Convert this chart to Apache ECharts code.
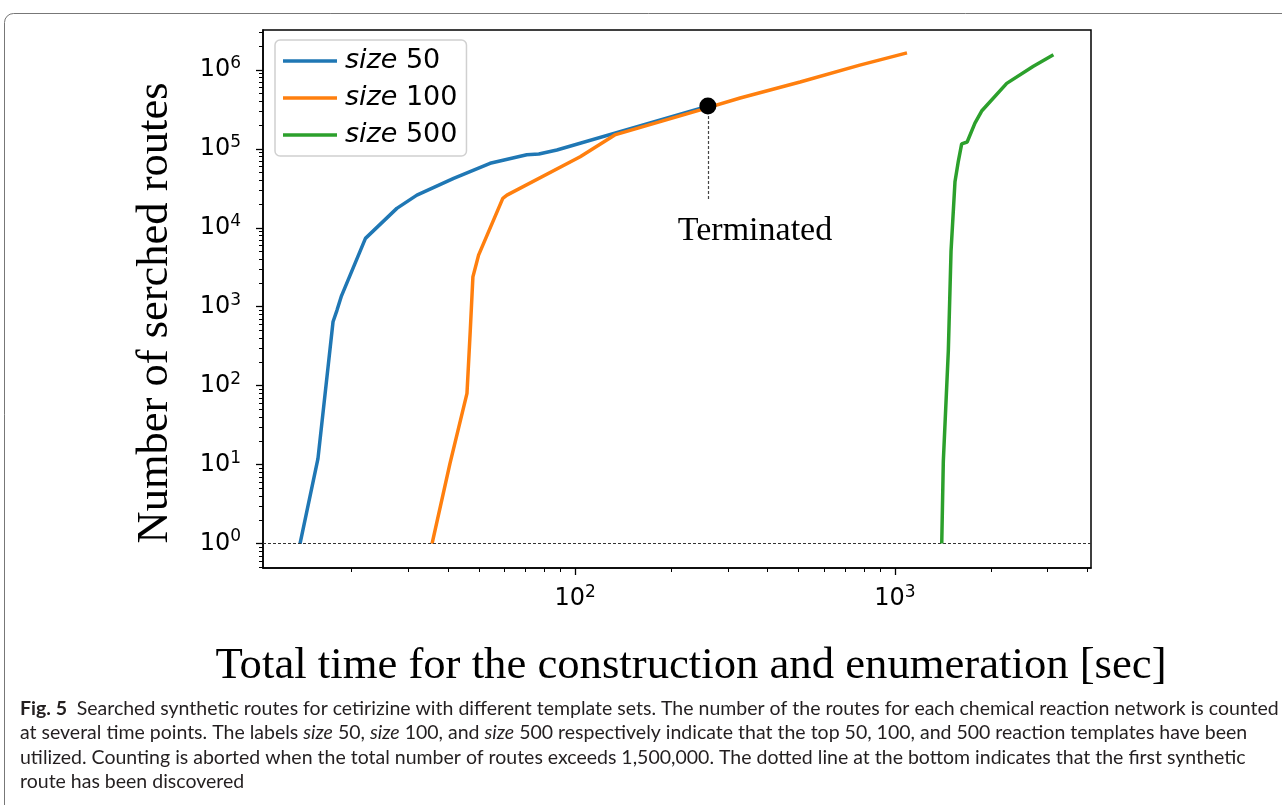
<!DOCTYPE html>
<html><head><meta charset="utf-8">
<script src="https://cdn.jsdelivr.net/npm/echarts@6/dist/echarts.min.js"></script>
<style>html,body{margin:0;padding:0;background:#fff}#c{width:1282px;height:805px}</style>
</head><body><div id="c"></div>
<script>
// ---- data ----
const seriesNames = ['size 50', 'size 100', 'size 500'];
const seriesColors = ['#1f77b4', '#ff7f0e', '#2ca02c'];

const size50Time   = [13.8, 15.7, 17.5, 18.0, 18.6, 22.1, 27.7, 32.0, 41.7, 54.2, 70.6, 77.0, 87.7, 260];
const size50Routes = [1, 11.9, 644, 900, 1374, 7340, 17600, 25900, 42200, 65500, 84000, 86000, 96600, 348000];

const size100Time   = [35.7, 40.6, 45.9, 47.0, 47.9, 49.9, 59.4, 61.2, 103.7, 133, 245, 328, 505, 776, 1090];
const size100Routes = [1, 10.3, 79.7, 500, 2390, 4510, 23600, 25900, 79400, 150000, 309000, 440000, 703000, 1150000, 1640000];

const size500Time   = [1400, 1416, 1468, 1497, 1540, 1578, 1616, 1681, 1778, 1866, 2235, 2708, 3128];
const size500Routes = [1, 11, 276, 5110, 38300, 70000, 115700, 122000, 212000, 301000, 675000, 1110000, 1550000];

const terminatedPoint = [260, 348000];
const terminatedLineEnd = 22000;
const terminatedText = 'Terminated';
const terminatedTextAnchor = [365, 9000];
const firstRouteLevel = 1;

const xRange = [10.57, 4100];
const yRange = [0.49, 3200000];
const xMajorTicks = [100, 1000];
const xMinorTicks = [20, 30, 40, 50, 60, 70, 80, 90, 200, 300, 400, 500, 600, 700, 800, 900, 2000, 3000, 4000];
const yMajorTicks = [1, 10, 100, 1000, 10000, 100000, 1000000];
const yMinorTicks = [0.5, 0.6, 0.7, 0.8, 0.9,
  2, 3, 4, 5, 6, 7, 8, 9,
  20, 30, 40, 50, 60, 70, 80, 90,
  200, 300, 400, 500, 600, 700, 800, 900,
  2000, 3000, 4000, 5000, 6000, 7000, 8000, 9000,
  20000, 30000, 40000, 50000, 60000, 70000, 80000, 90000,
  200000, 300000, 400000, 500000, 600000, 700000, 800000, 900000,
  2000000, 3000000];

const xTitle = 'Total time for the construction and enumeration [sec]';
const yTitle = 'Number of serched routes';
const captionText =
  '{b|Fig. 5}{r|\u2002Searched synthetic routes for cetirizine with different template sets. The number of the routes for each chemical reaction network is counted}\n' +
  '{r|at several time points. The labels }{i|size}{r| 50, }{i|size}{r| 100, and }{i|size}{r| 500 respectively indicate that the top 50, 100, and 500 reaction templates have been}\n' +
  '{r|utilized. Counting is aborted when the total number of routes exceeds 1,500,000. The dotted line at the bottom indicates that the first synthetic}\n' +
  '{r|route has been discovered}';

// ---- chart ----
const pair = (xs, ys) => xs.map((x, i) => [x, ys[i]]);
const supFmt = v => '{b|10}{s|' + Math.round(Math.log10(v)) + '}';
const tickRich = {
  b: {fontFamily: 'DejaVu Sans', fontSize: 24, color: '#000', lineHeight: 30},
  s: {fontFamily: 'DejaVu Sans', fontSize: 17, color: '#000', lineHeight: 16, verticalAlign: 'top'}
};
const axisLineStyle = {color: '#000', width: 1.5};

const chart = echarts.init(document.getElementById('c'), null, {renderer: 'canvas'});
const capFont = 'Lato';
const capSize = 19.5;
const capLH = 24.5;
const option = {
  animation: false,
  backgroundColor: '#fff',
  grid: {left: 263, right: 191, top: 30, bottom: 237, show: true, borderColor: '#000', borderWidth: 1.5, backgroundColor: 'transparent'},
  legend: {
    data: seriesNames.map(n => ({name: n, icon: 'rect'})), orient: 'vertical', left: 275, top: 40,
    padding: [6, 9, 6, 8], itemGap: 7, itemWidth: 54, itemHeight: 3.5,
    backgroundColor: 'rgba(255,255,255,0.85)', borderColor: '#d0d0d0', borderWidth: 1.5, borderRadius: 5,
    textStyle: {fontFamily: 'DejaVu Sans', fontSize: 27, color: '#000', lineHeight: 30, padding: [0, 0, 0, 3],
      rich: {i: {fontFamily: 'DejaVu Sans', fontSize: 27, fontStyle: 'italic', color: '#000'}}},
    formatter: n => '{i|' + n.split(' ')[0] + '} ' + n.split(' ')[1]
  },
  xAxis: [{
    type: 'log', logBase: 10, min: xRange[0], max: xRange[1],
    name: xTitle, nameLocation: 'middle', nameGap: 76,
    nameTextStyle: {fontFamily: 'Liberation Serif', fontSize: 44.7, color: '#000', padding: [0, 0, 0, 28]},
    axisLine: {show: true, onZero: false, lineStyle: axisLineStyle},
    axisTick: {show: true, customValues: xMajorTicks, length: 7, lineStyle: {color: '#000', width: 1.3}},
    axisLabel: {customValues: xMajorTicks, formatter: supFmt, rich: tickRich, margin: 16},
    splitLine: {show: false}
  }, {
    type: 'log', logBase: 10, min: xRange[0], max: xRange[1], position: 'bottom',
    axisLine: {show: false},
    axisTick: {show: true, customValues: xMinorTicks, length: 4, lineStyle: {color: '#000', width: 1}},
    axisLabel: {show: false}, splitLine: {show: false}
  }],
  yAxis: [{
    type: 'log', logBase: 10, min: yRange[0], max: yRange[1],
    name: yTitle, nameLocation: 'middle', nameGap: 85,
    nameTextStyle: {fontFamily: 'Liberation Serif', fontSize: 44.5, color: '#000', padding: [0, 28, 0, 0]},
    axisLine: {show: true, onZero: false, lineStyle: axisLineStyle},
    axisTick: {show: true, customValues: yMajorTicks, length: 7, lineStyle: {color: '#000', width: 1.3}},
    axisLabel: {customValues: yMajorTicks, formatter: supFmt, rich: tickRich, margin: 22},
    splitLine: {show: false}
  }, {
    type: 'log', logBase: 10, min: yRange[0], max: yRange[1], position: 'left',
    axisLine: {show: false},
    axisTick: {show: true, customValues: yMinorTicks, length: 4, lineStyle: {color: '#000', width: 1}},
    axisLabel: {show: false}, splitLine: {show: false}
  }],
  series: [
    {name: seriesNames[0], type: 'line', data: pair(size50Time, size50Routes), symbol: 'none',
      lineStyle: {color: seriesColors[0], width: 3.5}, itemStyle: {color: seriesColors[0]}, z: 3},
    {name: seriesNames[1], type: 'line', data: pair(size100Time, size100Routes), symbol: 'none',
      lineStyle: {color: seriesColors[1], width: 3.5}, itemStyle: {color: seriesColors[1]}, z: 4},
    {name: seriesNames[2], type: 'line', data: pair(size500Time, size500Routes), symbol: 'none',
      lineStyle: {color: seriesColors[2], width: 3.5}, itemStyle: {color: seriesColors[2]}, z: 5,
      markLine: {silent: true, symbol: ['none', 'none'], label: {show: false},
        lineStyle: {type: [3, 2], color: '#333', width: 1}, data: [{yAxis: firstRouteLevel}]}},
    {name: 'terminated', type: 'scatter', data: [terminatedPoint], symbolSize: 17, z: 10,
      itemStyle: {color: '#000', opacity: 1},
      markLine: {silent: true, symbol: ['none', 'none'], label: {show: false},
        lineStyle: {type: [3, 2], color: '#444', width: 1.2},
        data: [[{coord: terminatedPoint}, {coord: [terminatedPoint[0], terminatedLineEnd]}]]},
      markPoint: {silent: true, symbol: 'circle', symbolSize: 0,
        data: [{coord: terminatedTextAnchor}],
        label: {show: true, position: 'inside', formatter: terminatedText,
          fontFamily: 'Liberation Serif', fontSize: 34, color: '#000'}}}
  ],
  graphic: [
    {type: 'rect', z: -10, shape: {x: 4.5, y: 13.5, width: 1400, height: 900, r: 9},
      style: {fill: 'none', stroke: '#777', lineWidth: 1}},
    {type: 'text', x: 20, y: 696, z: 10,
      style: {text: captionText, fill: '#231f20', fontFamily: capFont, fontSize: capSize, lineHeight: capLH,
        verticalAlign: 'top',
        rich: {
          b: {fontFamily: capFont, fontSize: capSize, fontWeight: 'bold', fill: '#231f20', lineHeight: capLH},
          r: {fontFamily: capFont, fontSize: capSize, fill: '#231f20', lineHeight: capLH},
          i: {fontFamily: capFont, fontSize: capSize, fontStyle: 'italic', fill: '#231f20', lineHeight: capLH}
        }}}
  ]
};
chart.setOption(option);
</script></body></html>
